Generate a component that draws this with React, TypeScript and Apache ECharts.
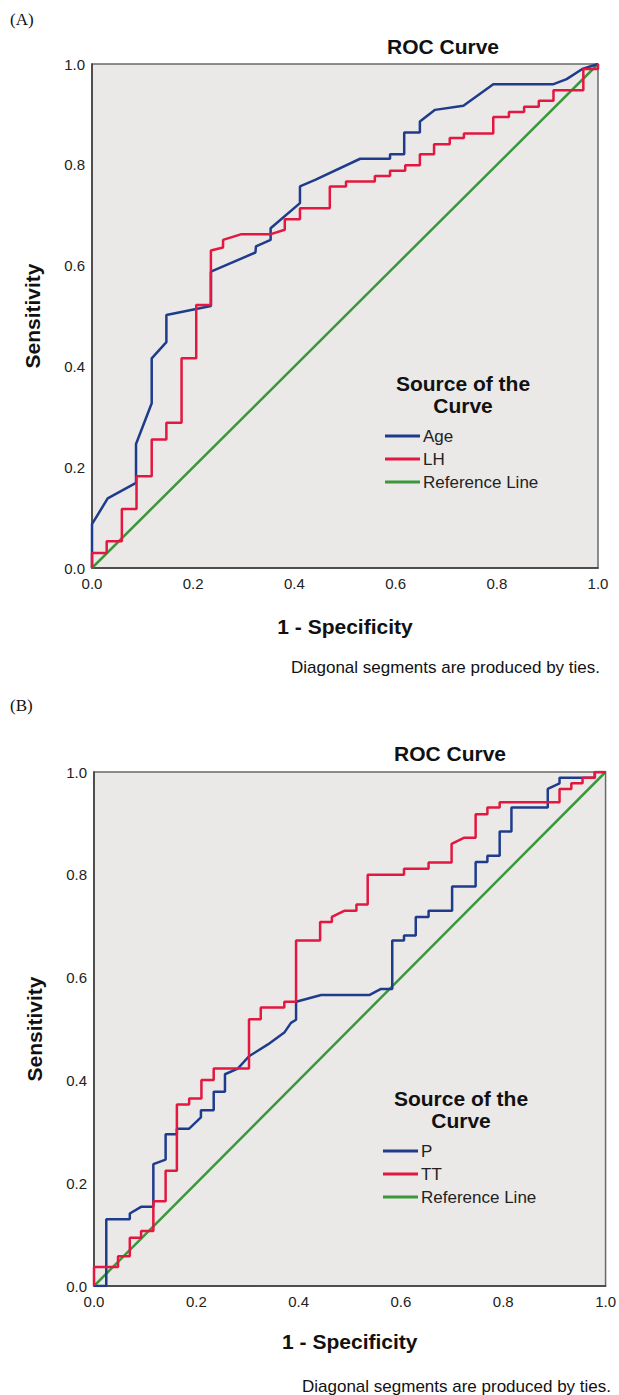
import React, { useEffect, useRef } from "react";
import * as echarts from "echarts";

// Panel A: ROC points [1 - specificity, sensitivity]
const ageA: number[][] = [
  [0, 0], [0, 0.087], [0.031, 0.138], [0.087, 0.169], [0.087, 0.246], [0.118, 0.327], [0.118, 0.416],
  [0.147, 0.448], [0.147, 0.502], [0.235, 0.52], [0.235, 0.588], [0.323, 0.626], [0.324, 0.638],
  [0.353, 0.651], [0.353, 0.674], [0.411, 0.724], [0.411, 0.757], [0.441, 0.77], [0.53, 0.812],
  [0.589, 0.812], [0.589, 0.821], [0.617, 0.821], [0.617, 0.864], [0.648, 0.864], [0.648, 0.886],
  [0.678, 0.909], [0.734, 0.917], [0.793, 0.96], [0.912, 0.96], [0.938, 0.97], [0.969, 0.99], [1, 1],
];
const lhA: number[][] = [
  [0, 0], [0, 0.03], [0.029, 0.03], [0.029, 0.053], [0.059, 0.053], [0.059, 0.117], [0.088, 0.117],
  [0.088, 0.182], [0.118, 0.182], [0.118, 0.255], [0.147, 0.255], [0.147, 0.288], [0.177, 0.288],
  [0.177, 0.416], [0.206, 0.416], [0.206, 0.522], [0.235, 0.522], [0.235, 0.63], [0.259, 0.636],
  [0.259, 0.651], [0.294, 0.662], [0.352, 0.662], [0.381, 0.671], [0.381, 0.692], [0.411, 0.692],
  [0.411, 0.714], [0.47, 0.714], [0.47, 0.757], [0.502, 0.757], [0.502, 0.767], [0.559, 0.767],
  [0.559, 0.778], [0.589, 0.778], [0.589, 0.788], [0.619, 0.788], [0.619, 0.799], [0.648, 0.799],
  [0.648, 0.821], [0.676, 0.821], [0.676, 0.841], [0.707, 0.841], [0.707, 0.853], [0.735, 0.853],
  [0.735, 0.862], [0.793, 0.862], [0.793, 0.895], [0.824, 0.895], [0.824, 0.905], [0.854, 0.905],
  [0.854, 0.915], [0.883, 0.915], [0.883, 0.927], [0.912, 0.927], [0.912, 0.948], [0.971, 0.948],
  [0.971, 0.99], [1, 0.99], [1, 1],
];
// Panel B
const pB: number[][] = [
  [0, 0], [0.024, 0], [0.024, 0.13], [0.07, 0.13], [0.07, 0.141], [0.092, 0.154], [0.116, 0.154],
  [0.116, 0.237], [0.14, 0.246], [0.14, 0.295], [0.162, 0.295], [0.162, 0.306], [0.186, 0.306],
  [0.209, 0.328], [0.209, 0.342], [0.234, 0.342], [0.234, 0.378], [0.256, 0.378], [0.256, 0.412],
  [0.281, 0.423], [0.303, 0.447], [0.34, 0.47], [0.372, 0.493], [0.385, 0.512], [0.395, 0.518],
  [0.395, 0.553], [0.444, 0.566], [0.538, 0.566], [0.561, 0.578], [0.583, 0.578], [0.583, 0.672],
  [0.606, 0.672], [0.606, 0.682], [0.629, 0.682], [0.629, 0.718], [0.654, 0.718], [0.654, 0.73],
  [0.7, 0.73], [0.7, 0.777], [0.746, 0.777], [0.746, 0.825], [0.769, 0.825], [0.769, 0.837],
  [0.793, 0.837], [0.793, 0.884], [0.816, 0.884], [0.816, 0.931], [0.887, 0.931], [0.887, 0.967],
  [0.91, 0.978], [0.91, 0.989], [0.979, 0.989], [0.979, 1], [1, 1],
];
const ttB: number[][] = [
  [0, 0], [0, 0.037], [0.047, 0.037], [0.047, 0.058], [0.07, 0.058], [0.07, 0.094], [0.092, 0.094],
  [0.092, 0.107], [0.116, 0.107], [0.116, 0.165], [0.14, 0.165], [0.14, 0.224], [0.162, 0.224],
  [0.162, 0.353], [0.186, 0.353], [0.186, 0.365], [0.21, 0.365], [0.21, 0.401], [0.234, 0.401],
  [0.234, 0.423], [0.303, 0.423], [0.303, 0.519], [0.326, 0.519], [0.326, 0.542], [0.372, 0.542],
  [0.372, 0.553], [0.395, 0.553], [0.395, 0.672], [0.442, 0.672], [0.442, 0.708], [0.465, 0.708],
  [0.465, 0.718], [0.489, 0.73], [0.513, 0.73], [0.513, 0.742], [0.535, 0.742], [0.535, 0.8],
  [0.606, 0.8], [0.606, 0.812], [0.654, 0.812], [0.654, 0.824], [0.699, 0.824], [0.699, 0.86],
  [0.723, 0.872], [0.746, 0.872], [0.746, 0.918], [0.769, 0.918], [0.769, 0.931], [0.793, 0.931],
  [0.793, 0.941], [0.91, 0.941], [0.91, 0.967], [0.933, 0.967], [0.933, 0.978], [0.955, 0.978],
  [0.955, 0.989], [0.979, 0.989], [0.979, 1], [1, 1],
];
const refLine: number[][] = [[0, 0], [1, 1]];

const seriesNamesA = ["Age", "LH", "Reference Line"];
const seriesNamesB = ["P", "TT", "Reference Line"];

const BLUE = "#1f3c8c";
const RED = "#e3173f";
const GREEN = "#3b973b";
const SANS = "'Liberation Sans', Arial, sans-serif";
const SERIF = "'Liberation Serif', 'Times New Roman', serif";

function axisPair(idx: number, gap: number, ygap: number) {
  const common = {
    type: "value" as const,
    min: 0,
    max: 1,
    interval: 0.2,
    gridIndex: idx,
    splitLine: { show: false },
    axisTick: { show: false },
    axisLine: { show: true, lineStyle: { color: "#3a3a3a", width: 1.5 } },
    nameLocation: "middle" as const,
    nameTextStyle: { fontFamily: SANS, fontWeight: "bold" as const, fontSize: 21, color: "#111" },
  };
  return {
    x: {
      ...common,
      name: "1 - Specificity",
      nameGap: gap,
      axisLabel: { fontFamily: SANS, fontSize: 15, color: "#222", margin: 8, formatter: (v: number) => v.toFixed(1) },
    },
    y: {
      ...common,
      name: "Sensitivity",
      nameGap: ygap,
      axisLabel: { fontFamily: SANS, fontSize: 15, color: "#222", margin: 7, formatter: (v: number) => v.toFixed(1) },
    },
  };
}

function lineSeries(name: string, data: number[][], color: string, idx: number) {
  return {
    type: "line" as const,
    name,
    data,
    xAxisIndex: idx,
    yAxisIndex: idx,
    showSymbol: false,
    symbol: "none",
    color,
    lineStyle: { color, width: 2.5 },
    itemStyle: { color },
    z: name === "Reference Line" ? 2 : 3,
  };
}

function legendBox(names: string[], left: number, top: number) {
  return {
    data: names,
    orient: "vertical" as const,
    left,
    top,
    padding: 0,
    icon: "rect",
    itemWidth: 35,
    itemHeight: 3,
    itemGap: 6,
    selectedMode: false,
    textStyle: { fontFamily: SANS, fontSize: 17, lineHeight: 17, color: "#222", padding: [0, 0, 0, -2] },
  };
}

function txt(text: string, x: number, y: number, font: string, align = "center") {
  return {
    type: "text" as const,
    x,
    y,
    style: { text, font, fill: "#111", align, verticalAlign: "middle" },
  };
}

export default function App() {
  const ref = useRef<HTMLDivElement>(null);
  useEffect(() => {
    if (!ref.current) return;
    const chart = echarts.init(ref.current, undefined, { renderer: "svg" });
    const a = axisPair(0, 48, 49);
    const b = axisPair(1, 45, 49);
    chart.setOption({
      animation: false,
      backgroundColor: "#ffffff",
      grid: [
        { left: 92, top: 64, width: 506, height: 504, show: true, backgroundColor: "#eae9e7", borderColor: "#6a6a6a", borderWidth: 1.5 },
        { left: 94, top: 772, width: 513, height: 514, show: true, backgroundColor: "#eae9e7", borderColor: "#6a6a6a", borderWidth: 1.5 },
      ],
      xAxis: [a.x, b.x],
      yAxis: [a.y, b.y],
      legend: [legendBox(seriesNamesA, 385, 427.5), legendBox(seriesNamesB, 383, 1142.5)],
      series: [
        lineSeries(seriesNamesA[2], refLine, GREEN, 0),
        lineSeries(seriesNamesA[0], ageA, BLUE, 0),
        lineSeries(seriesNamesA[1], lhA, RED, 0),
        lineSeries(seriesNamesB[2], refLine, GREEN, 1),
        lineSeries(seriesNamesB[0], pB, BLUE, 1),
        lineSeries(seriesNamesB[1], ttB, RED, 1),
      ],
      graphic: [
        txt("(A)", 10, 19, `17px ${SERIF}`, "left"),
        txt("ROC Curve", 443, 46, `bold 21px ${SANS}`),
        txt("Source of the", 463, 383, `bold 21px ${SANS}`),
        txt("Curve", 463, 405, `bold 21px ${SANS}`),
        txt("Diagonal segments are produced by ties.", 600, 667, `17px ${SANS}`, "right"),
        txt("(B)", 10, 705, `17px ${SERIF}`, "left"),
        txt("ROC Curve", 450, 753, `bold 21px ${SANS}`),
        txt("Source of the", 461, 1098, `bold 21px ${SANS}`),
        txt("Curve", 461, 1120, `bold 21px ${SANS}`),
        txt("Diagonal segments are produced by ties.", 611, 1386, `17px ${SANS}`, "right"),
      ],
    });
    return () => chart.dispose();
  }, []);
  return (
    <div style={{ position: "absolute", left: 0, top: 0, width: 619, height: 1395, background: "#fff" }}>
      <div ref={ref} style={{ width: 619, height: 1395 }} />
    </div>
  );
}
